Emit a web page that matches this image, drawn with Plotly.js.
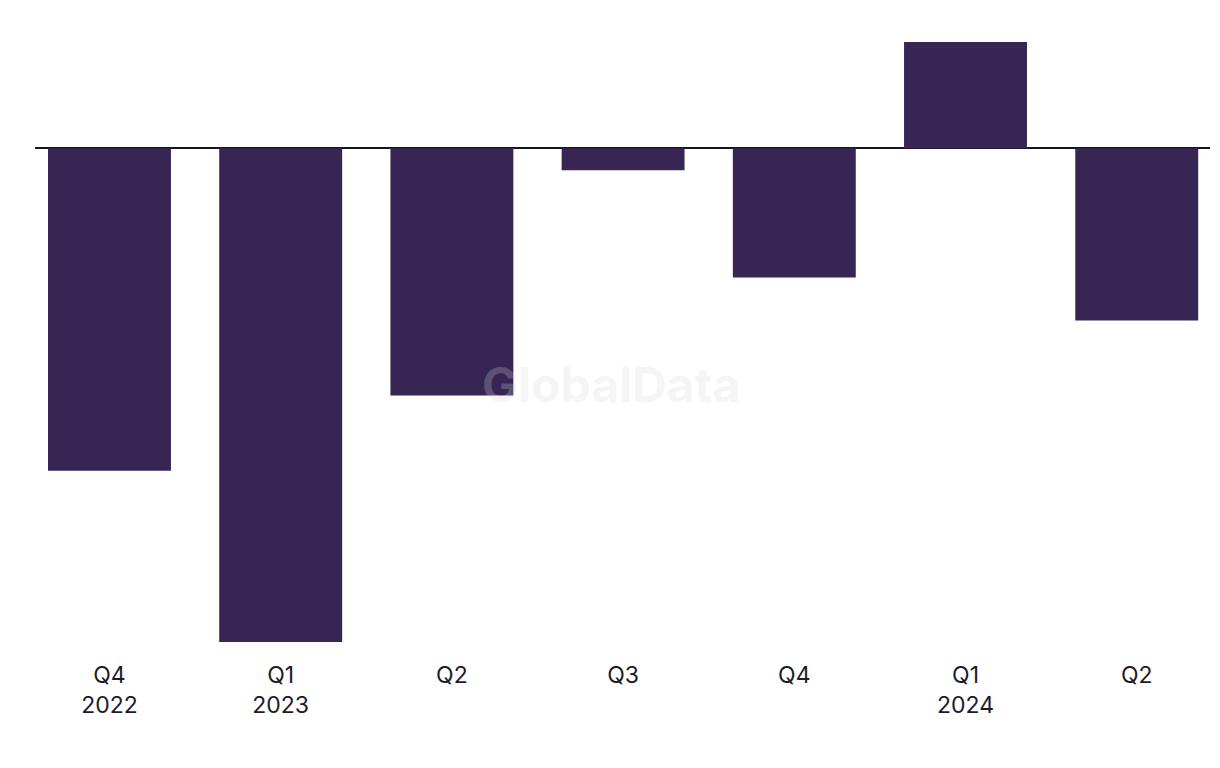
<!DOCTYPE html>
<html>
<head>
<meta charset="utf-8">
<script src="https://cdn.plot.ly/plotly-3.0.1.min.js"></script>
<style>html,body{margin:0;padding:0;background:#fff;}#chart{width:1220px;height:768px;}</style>
</head>
<body>
<div id="chart"></div>
<script>
const categories = ["Q4<br>2022", "Q1<br>2023", "Q2", "Q3", "Q4", "Q1<br>2024", "Q2"];
const values = [-32.2, -49.3, -24.7, -2.2, -12.9, 10.6, -17.2];

const xIdx = categories.map((_, i) => i);

Plotly.newPlot('chart', [{
  type: 'bar',
  x: xIdx,
  y: values,
  width: 0.718,
  marker: {color: '#372553'},
  hoverinfo: 'skip'
}], {
  width: 1220,
  height: 768,
  margin: {l: 35, r: 10, t: 31, b: 117},
  paper_bgcolor: '#ffffff',
  plot_bgcolor: '#ffffff',
  showlegend: false,
  font: {family: 'Inter, "Noto Sans", sans-serif', color: '#1c1b2e', size: 23},
  xaxis: {
    range: [-0.435, 6.428],
    tickmode: 'array',
    tickvals: xIdx,
    ticktext: categories,
    showgrid: false,
    zeroline: false,
    showline: false,
    ticks: '',
    ticklabelstandoff: 8,
    tickfont: {size: 23, color: '#1c1b2e'}
  },
  yaxis: {
    range: [-50.2, 11.7],
    showgrid: false,
    showticklabels: false,
    zeroline: true,
    zerolinecolor: '#16142a',
    zerolinewidth: 2,
    ticks: ''
  },
  annotations: [{
    text: '<b>GlobalData</b>',
    xref: 'paper', yref: 'paper',
    x: (611 - 35) / 1175, y: (651 - 384) / 620,
    showarrow: false,
    font: {size: 48, color: 'rgba(215,215,215,0.25)', family: 'Inter, sans-serif'}
  }]
}, {displayModeBar: false, staticPlot: true});
</script>
</body>
</html>
